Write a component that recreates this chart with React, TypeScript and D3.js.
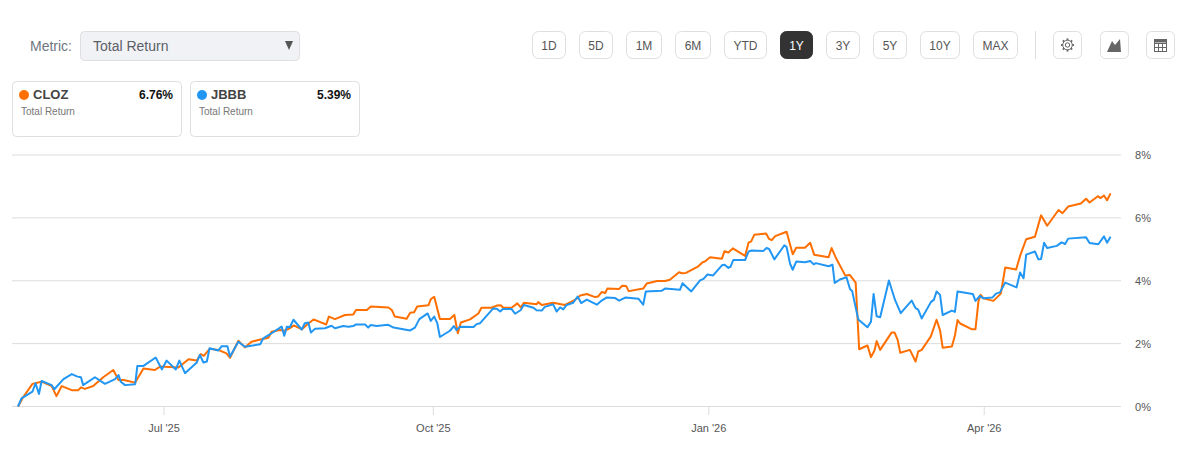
import * as d3 from 'd3';

// [trading session since start of window, total return %]
const clozPoints: [number, number][] = [
  [0, 0], [1.1, 0.28], [3.3, 0.72], [5.4, 0.79], [7.7, 0.65], [8.8, 0.33], [10, 0.65], [12.3, 0.52], [13.8, 0.52],
  [14.4, 0.61], [15.3, 0.56], [17.2, 0.65], [19.5, 0.93], [21.8, 1.16], [23, 0.84], [24.2, 0.84], [26.8, 0.76],
  [28.7, 1.21], [31.3, 1.16], [32.5, 1.27], [36.7, 1.24], [39, 1.5], [40.9, 1.46], [41.8, 1.67], [42.5, 1.61],
  [43.9, 1.84], [45.8, 1.8], [47.7, 1.69], [48.5, 1.55], [50.4, 2.09], [51.9, 1.88], [53.4, 2.06], [55.7, 2.14],
  [57.3, 2.19], [58, 2.38], [59.9, 2.43], [61, 2.41], [62.2, 2.49], [63.1, 2.58], [64.9, 2.45], [66, 2.59],
  [67.6, 2.77], [70.5, 2.61], [71.1, 2.86], [72.5, 2.78], [74.8, 2.91], [76.7, 2.93], [77.3, 3.07], [79.8, 3.07],
  [80.7, 3.18], [84.7, 3.15], [85.5, 3.07], [86.2, 2.86], [88.9, 2.79], [89.7, 2.98], [90.6, 3], [91.3, 3.18],
  [93.9, 3.22], [94.4, 3.41], [95.2, 3.49], [96.5, 2.78], [98.8, 2.78], [99.8, 2.91], [100.6, 2.33], [101.3, 2.67],
  [103.4, 2.77], [105.3, 2.96], [106, 3.14], [108.3, 3.14], [109.5, 3.21], [110.4, 3.22], [111, 3.14], [112.9, 3.14],
  [114.2, 3.28], [115, 3.15], [115.7, 3.3], [118.6, 3.25], [119, 3.32], [119.8, 3.23], [122.4, 3.3], [125.1, 3.23],
  [127.4, 3.39], [128.6, 3.53], [130.1, 3.58], [132, 3.48], [132.7, 3.5], [133.5, 3.64], [134.3, 3.61], [134.8, 3.75],
  [137.5, 3.74], [138.2, 3.84], [139.1, 3.83], [139.7, 3.67], [143, 3.75], [143.8, 3.91], [146.2, 3.99], [148, 3.99],
  [149.1, 4.03], [151.2, 4.27], [151.8, 4.24], [152.8, 4.25], [155.6, 4.46], [156.6, 4.59], [157.1, 4.61], [158.3, 4.75],
  [161, 4.7], [161.6, 4.94], [162.5, 4.9], [163.5, 5.03], [166.3, 4.79], [167.1, 5.21], [167.7, 5.25], [168.4, 5.46],
  [171.1, 5.5], [171.8, 5.33], [172.4, 5.29], [173.2, 5.42], [175.8, 5.56], [177.2, 4.84], [178, 5.05], [180, 5.05],
  [181.2, 5.21], [182.1, 4.83], [185.4, 4.75], [186.1, 5.04], [187, 4.75], [189.2, 4.17], [190.3, 4.18], [191.6, 3.94],
  [192.4, 1.82], [194.3, 1.94], [195.1, 1.57], [195.9, 1.78], [196.4, 2.08], [197.2, 1.8], [199.8, 2.35], [200.5, 2.35],
  [201.2, 2.12], [201.8, 1.71], [204, 1.8], [205.3, 1.43], [205.9, 1.75], [206.7, 1.8], [208.8, 2.23], [210.1, 2.76],
  [210.9, 2.42], [211.5, 1.87], [213.6, 1.91], [214.3, 2.26], [214.9, 2.75], [215.5, 2.64], [218.1, 2.46], [219, 2.46],
  [219.7, 3.37], [220.2, 3.55], [220.8, 3.44], [223.1, 3.36], [224.8, 3.59], [225.8, 4.42], [228.3, 4.36], [229.2, 4.79],
  [230.6, 5.32], [232.6, 5.4], [234, 6.08], [235.4, 5.75], [238, 6.25], [238.9, 6.15], [240.2, 6.36], [243.1, 6.46],
  [244.3, 6.61], [245.1, 6.49], [247, 6.69], [247.6, 6.63], [248.4, 6.71], [249.1, 6.56], [249.9, 6.78],
];

const jbbbPoints: [number, number][] = [
  [0, 0], [0.8, 0.26], [3.3, 0.47], [4, 0.74], [4.8, 0.4], [5.4, 0.81], [7.7, 0.68], [8.3, 0.55], [10.4, 0.87],
  [12.3, 1.03], [13.6, 0.95], [14.4, 0.93], [14.9, 0.68], [17.6, 0.93], [19.9, 0.72], [22.2, 0.87], [23, 1], [23.5, 0.79],
  [24.5, 0.68], [26.8, 0.71], [27.3, 1.29], [28.7, 1.29], [31.5, 1.56], [32.9, 1.18], [34, 1.46], [36.1, 1.18],
  [36.9, 1.46], [38.2, 1.06], [40.9, 1.4], [41.6, 1.64], [42.4, 1.4], [43.2, 1.43], [43.8, 1.85], [45.8, 1.78],
  [46.6, 1.92], [47.9, 1.92], [48.5, 1.59], [50.4, 2.06], [51.9, 1.9], [55.4, 1.98], [56.1, 2.17], [57.3, 2.27],
  [58, 2.33], [60.3, 2.54], [60.9, 2.25], [61.5, 2.54], [62.2, 2.53], [63, 2.76], [64.9, 2.45], [65.6, 2.65], [66.4, 2.67],
  [67, 2.35], [67.9, 2.47], [70.2, 2.49], [71.7, 2.57], [72.5, 2.49], [74.4, 2.56], [75.6, 2.54], [76.7, 2.56],
  [77.3, 2.61], [79.4, 2.61], [80.1, 2.51], [80.7, 2.59], [82, 2.56], [84.7, 2.6], [85.9, 2.51], [89.7, 2.42],
  [90.8, 2.51], [91.8, 2.78], [93.7, 2.96], [94.4, 2.72], [95.2, 2.86], [95.9, 2.65], [96.5, 2.21], [98.8, 2.41],
  [99.7, 2.56], [100.3, 2.43], [101.1, 2.54], [104.2, 2.53], [104.9, 2.62], [105.7, 2.65], [108.7, 3.12], [109.5, 3.11],
  [110.3, 3.02], [110.9, 3.1], [112.9, 3.1], [113.7, 2.95], [115, 3.07], [115.7, 3.23], [117.9, 3.14], [118.6, 3.06],
  [119.8, 3.05], [120.5, 3.17], [122.4, 3.25], [123.2, 3.02], [124, 3.15], [124.7, 3.09], [125.5, 3.23], [127, 3.3],
  [128, 3.5], [128.8, 3.29], [130.1, 3.4], [132.4, 3.24], [133.5, 3.37], [134.7, 3.47], [136.6, 3.45], [137.5, 3.37],
  [139, 3.47], [141.9, 3.43], [143, 3.24], [143.6, 3.66], [147.2, 3.68], [148, 3.75], [151.4, 3.71], [152, 3.92],
  [154, 3.66], [156, 4.01], [156.8, 4.06], [157.7, 4.2], [159, 4.17], [161, 4.49], [161.6, 4.51], [162.5, 4.41],
  [163, 4.45], [163.6, 4.66], [166.3, 4.66], [167.1, 4.93], [167.8, 4.96], [170.5, 4.95], [171.2, 5.04], [171.8, 5.01],
  [173, 4.68], [175.3, 5.13], [175.8, 5.07], [176.6, 4.54], [177.2, 4.35], [178, 4.61], [180, 4.59], [181.2, 4.63],
  [182, 4.52], [182.5, 4.56], [185.4, 4.46], [186.3, 4.51], [186.8, 3.93], [188, 4.04], [189.5, 4.11], [190.3, 3.74],
  [190.8, 3.67], [192.2, 2.77], [194.3, 2.52], [195.1, 2.7], [195.7, 3.58], [196.4, 2.87], [197.2, 2.84], [199.2, 4.01],
  [200.6, 3.39], [201.9, 2.97], [204.4, 3.37], [205.3, 3.13], [205.9, 3.08], [206.7, 2.8], [208.8, 3.32], [209.5, 3.4],
  [210.1, 3.66], [210.9, 3.55], [211.5, 2.91], [213.6, 3.05], [214.3, 3.01], [214.9, 3.66], [218.4, 3.58], [219, 3.36],
  [220, 3.52], [220.8, 3.44], [222.9, 3.47], [223.7, 3.59], [224.6, 3.63], [225.8, 3.94], [228.4, 3.79], [229.2, 4.26],
  [230, 4.08], [230.6, 4.83], [232.6, 4.93], [233.4, 4.68], [234, 4.69], [234.7, 5.21], [235.4, 5.04], [237.6, 5.11],
  [238.7, 5.22], [239.5, 5.17], [240.2, 5.34], [244.3, 5.38], [245.1, 5.2], [247.1, 5.16], [248.4, 5.41], [249.1, 5.21],
  [249.9, 5.4],
];

const yTicks = [0, 2, 4, 6, 8];
const xTickSessions = [33.4, 95, 158, 221];
const xTickLabels = ["Jul '25", "Oct '25", "Jan '26", "Apr '26"];
const rangeLabels = ['1D', '5D', '1M', '6M', 'YTD', '1Y', '3Y', '5Y', '10Y', 'MAX'];
const rangeWidths = [33, 33, 35, 35, 42, 32, 33, 33, 39, 44];
const cards = [
  { name: 'CLOZ', value: '6.76%', color: '#ff6f00', x: 12 },
  { name: 'JBBB', value: '5.39%', color: '#2196f3', x: 190 },
];

const FONT = '"Liberation Sans", Arial, sans-serif';
const BORDER = '#dfdfdf';

function IconButton({ x, children }: { x: number; children: React.ReactNode }) {
  return (
    <g transform={`translate(${x},31)`}>
      <rect x={0.5} y={0.5} width={28} height={27} rx={5} fill="#fff" stroke={BORDER} />
      {children}
    </g>
  );
}

export default function App() {
  const x = d3.scaleLinear().domain([0, 250]).range([18, 1111]);
  const y = d3.scaleLinear().domain([0, 8]).range([406.5, 155]);
  const line = d3.line<[number, number]>().x((d) => x(d[0])).y((d) => y(d[1]));

  let cursor = 532;
  const buttons = rangeLabels.map((label, i) => {
    const left = cursor;
    cursor += rangeWidths[i] + 14;
    return { label, left, width: rangeWidths[i] };
  });

  const gearTeeth = d3.range(8).map((i) => (i * 360) / 8);

  return (
    <svg
      width={1202}
      height={455}
      fontFamily={FONT}
      style={{ position: 'absolute', left: 0, top: 0, background: '#fff' }}
    >
      {/* metric select */}
      <text x={30} y={51} fontSize={14} fill="#6f7680">Metric:</text>
      <rect x={80.5} y={31.5} width={219} height={29} rx={4} fill="#f1f2f6" stroke={BORDER} />
      <text x={93} y={51} fontSize={14} fill="#5b5f66">Total Return</text>
      <path d={d3.line()([[285, 41], [293, 41], [289, 50]]) + 'Z'} fill="#555" />

      {/* range buttons */}
      {buttons.map((b) => (
        <g key={b.label}>
          <rect
            x={b.left + 0.5}
            y={31.5}
            width={b.width}
            height={27}
            rx={6}
            fill={b.label === '1Y' ? '#333' : '#fff'}
            stroke={b.label === '1Y' ? '#333' : BORDER}
          />
          <text
            x={b.left + b.width / 2 + 0.5}
            y={50}
            fontSize={12}
            textAnchor="middle"
            fill={b.label === '1Y' ? '#fff' : '#555'}
          >
            {b.label}
          </text>
        </g>
      ))}
      <line x1={1035.5} x2={1035.5} y1={31} y2={59} stroke="#ddd" />

      <IconButton x={1053}>
        <g transform="translate(14.5,14)" fill="none" stroke="#666">
          <circle r={2.2} />
          <circle r={4.8} />
          {gearTeeth.map((a) => (
            <line key={a} x1={0} y1={-4.8} x2={0} y2={-6.6} strokeWidth={1.8} transform={`rotate(${a})`} />
          ))}
        </g>
      </IconButton>
      <IconButton x={1100}>
        <path d="M7 21 L12 10 L15 14 L20 8 L21 21 Z" fill="#666" />
      </IconButton>
      <IconButton x={1146}>
        <g fill="none" stroke="#666">
          <rect x={8.5} y={8.5} width={12} height={12} />
          <path d="M8.5 12.5H20.5M8.5 16.5H20.5M12.5 12.5V20.5M16.5 12.5V20.5" />
        </g>
        <rect x={8} y={8} width={13} height={3.5} fill="#666" />
      </IconButton>

      {/* legend cards */}
      {cards.map((c) => (
        <g key={c.name} transform={`translate(${c.x},0)`}>
          <rect x={0.5} y={81.5} width={169} height={55} rx={4} fill="#fff" stroke={BORDER} />
          <circle cx={12} cy={95} r={5} fill={c.color} />
          <text x={21} y={99} fontSize={13} fontWeight={700} fill="#444">{c.name}</text>
          <text x={161} y={99} fontSize={12} fontWeight={700} fill="#111" textAnchor="end">{c.value}</text>
          <text x={9} y={115} fontSize={10} fill="#777">Total Return</text>
        </g>
      ))}

      {/* grid and axes */}
      {yTicks.map((t) => (
        <g key={t}>
          <line x1={12} x2={1121} y1={y(t)} y2={y(t)} stroke="#dcdcdc" />
          <text x={1135} y={y(t) + 4} fontSize={11} fill="#555">{t}%</text>
        </g>
      ))}
      {xTickSessions.map((s, i) => (
        <g key={s}>
          <line x1={x(s)} x2={x(s)} y1={406.5} y2={415} stroke="#dcdcdc" />
          <text x={x(s)} y={432} fontSize={11} textAnchor="middle" fill="#555">{xTickLabels[i]}</text>
        </g>
      ))}

      {/* series */}
      <path d={line(clozPoints) ?? ''} fill="none" stroke="#ff6f00" strokeWidth={2} strokeLinejoin="round" />
      <path d={line(jbbbPoints) ?? ''} fill="none" stroke="#2196f3" strokeWidth={2} strokeLinejoin="round" />
    </svg>
  );
}
